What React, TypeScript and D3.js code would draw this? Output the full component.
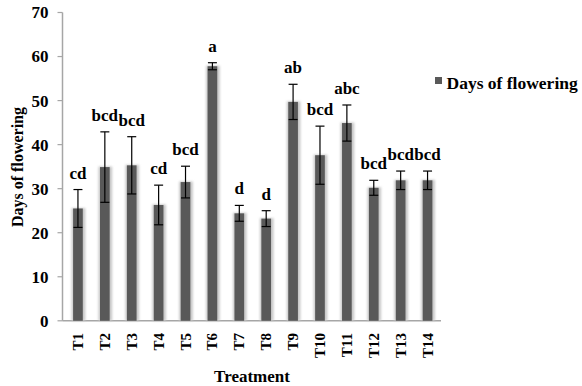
import React from "react";
import * as d3 from "d3";

const categories = ["T1","T2","T3","T4","T5","T6","T7","T8","T9","T10","T11","T12","T13","T14"];
const values = [25.5, 34.9, 35.3, 26.3, 31.5, 57.8, 24.4, 23.2, 49.7, 37.6, 44.9, 30.2, 31.9, 31.9];
const errors = [4.3, 8.0, 6.5, 4.5, 3.6, 0.8, 1.8, 1.8, 4.0, 6.6, 4.1, 1.7, 2.1, 2.1];
const letters = ["cd","bcd","bcd","cd","bcd","a","d","d","ab","bcd","abc","bcd","bcd","bcd"];
const yTicks = [0, 10, 20, 30, 40, 50, 60, 70];
const seriesName = "Days of flowering";

export default function App() {
  const W = 582, H = 386;
  const x0 = 62.5, x1 = 441;
  const y = d3.scaleLinear().domain([0, 70]).range([320.8, 12.5]);
  const x = d3.scaleBand().domain(categories).range([64.5, x1]).paddingInner(0.64).paddingOuter(0.32);
  const bw = x.bandwidth();
  const font = "Liberation Serif, Times New Roman, serif";
  const axisColor = "#a6a6a6";
  const ts = (size: number): React.CSSProperties => ({ fontFamily: font, fontWeight: 700, fontSize: size });
  return (
    <svg width={W} height={H} style={{ position: "absolute", left: 0, top: 0, background: "#fff" }}>
      <defs>
        <filter id="glow" x="-50%" y="-10%" width="200%" height="120%">
          <feGaussianBlur stdDeviation="1.2" />
        </filter>
      </defs>
      <line x1={x0} x2={x0} y1={y(70)} y2={y(0)} stroke={axisColor} strokeWidth={1.5} />
      <line x1={x0} x2={x1} y1={y(0)} y2={y(0)} stroke={axisColor} strokeWidth={1.5} />
      {yTicks.map(t => (
        <g key={t}>
          <line x1={x0 - 5} x2={x0} y1={y(t)} y2={y(t)} stroke={axisColor} strokeWidth={1.2} />
          <text x={48.5} y={y(t)} dy="0.35em" textAnchor="end" style={ts(17)}>{t}</text>
        </g>
      ))}
      {categories.map((c, i) => {
        const cx = (x(c) as number) + bw / 2;
        return (
          <g key={c}>
            <rect x={(x(c) as number) - 1.5} y={y(values[i]) - 0.5} width={bw + 4} height={y(0) - y(values[i]) + 0.5} fill="#c8c8c8" filter="url(#glow)" />
            <rect x={x(c) as number} y={y(values[i])} width={bw} height={y(0) - y(values[i])} fill="#595959" />
            <line x1={cx} x2={cx} y1={y(values[i] + errors[i])} y2={y(values[i] - errors[i])} stroke="#000" strokeWidth={1.2} />
            <line x1={cx - 4.5} x2={cx + 4.5} y1={y(values[i] + errors[i])} y2={y(values[i] + errors[i])} stroke="#000" strokeWidth={1.2} />
            <line x1={cx - 4.5} x2={cx + 4.5} y1={y(values[i] - errors[i])} y2={y(values[i] - errors[i])} stroke="#000" strokeWidth={1.2} />
            <text x={cx} y={y(values[i] + errors[i]) - 11} textAnchor="middle" style={ts(17)}>{letters[i]}</text>
            <text transform={`translate(${cx + 5},${333}) rotate(-90)`} textAnchor="end" style={ts(15)}>{c}</text>
          </g>
        );
      })}
      <text x={252} y={381.5} textAnchor="middle" style={ts(17)}>Treatment</text>
      <text transform={`translate(${23},${167}) rotate(-90)`} textAnchor="middle" style={ts(16)}>Days of flowering</text>
      <rect x={435} y={77} width={7} height={7} fill="#595959" />
      <text x={446.5} y={89.3} style={ts(17.5)}>{seriesName}</text>
    </svg>
  );
}
